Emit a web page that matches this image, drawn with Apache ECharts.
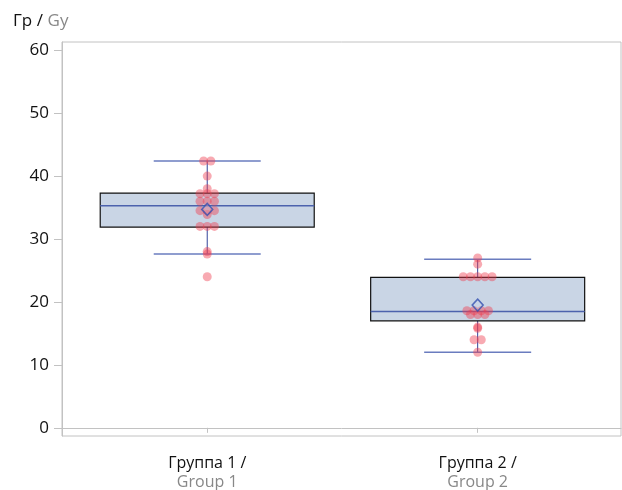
<!DOCTYPE html>
<html>
<head>
<meta charset="utf-8">
<script src="https://cdn.jsdelivr.net/npm/echarts@6/dist/echarts.min.js"></script>
<style>
  html, body { margin: 0; padding: 0; background: #fff; }
  #chart { width: 622px; height: 490px; }
</style>
</head>
<body>
<div id="chart"></div>
<script>
// категории / categories
const groupsRu = ['Группа 1 /', 'Группа 2 /'];
const groupsEn = ['Group 1', 'Group 2'];

// box stats: [low whisker, Q1, median, Q3, high whisker]
const boxStats = [
  [27.6, 31.9, 35.3, 37.3, 42.4],
  [12, 17, 18.5, 23.9, 26.8]
];
const means = [34.7, 19.5];

// individual doses, Gy
const group1Values = [42.4, 42.4, 40, 38, 37.2, 37.2, 37.2, 36, 36, 36, 34.5, 34.5, 34.5, 33.9, 32, 32, 32, 28, 27.6, 24];
const group2Values = [27, 26, 24, 24, 24, 24, 24, 18.6, 18.6, 18.6, 18.6, 18, 18, 18, 16, 15.8, 14, 14, 12];

const yTicks = [0, 10, 20, 30, 40, 50, 60];

const chart = echarts.init(document.getElementById('chart'));
const FONT = '"Open Sans", "Noto Sans", sans-serif';
const PX_PER_UNIT_X = 270; // one category step on the x axis in px

// простая "пчелиная" раскладка: одинаковые значения рядом
function swarm(values, center) {
  const counts = {};
  values.forEach(v => { counts[v] = (counts[v] || 0) + 1; });
  const seen = {};
  return values.map(v => {
    const n = counts[v];
    const i = seen[v] || 0;
    seen[v] = i + 1;
    const dx = (i - (n - 1) / 2) * 7.2 / PX_PER_UNIT_X;
    return [center + dx, v];
  });
}

const pointData = swarm(group1Values, 1).concat(swarm(group2Values, 2));
const boxData = boxStats.map((s, i) => [i + 1].concat(s));
const meanData = means.map((m, i) => [i + 1, m]);

function renderBox(params, api) {
  const x = api.value(0);
  const lo = api.coord([x, api.value(1)]);
  const q1 = api.coord([x, api.value(2)]);
  const med = api.coord([x, api.value(3)]);
  const q3 = api.coord([x, api.value(4)]);
  const hi = api.coord([x, api.value(5)]);
  const halfBox = 107;
  const halfCap = 53.5;
  const cx = lo[0];
  return {
    type: 'group',
    children: [
      { type: 'line', shape: { x1: cx, y1: q1[1], x2: cx, y2: lo[1] }, style: { stroke: '#33449a', lineWidth: 1 } },
      { type: 'line', shape: { x1: cx, y1: q3[1], x2: cx, y2: hi[1] }, style: { stroke: '#33449a', lineWidth: 1 } },
      { type: 'line', shape: { x1: cx - halfCap, y1: lo[1], x2: cx + halfCap, y2: lo[1] }, style: { stroke: '#6a7cbf', lineWidth: 1.5 } },
      { type: 'line', shape: { x1: cx - halfCap, y1: hi[1], x2: cx + halfCap, y2: hi[1] }, style: { stroke: '#6a7cbf', lineWidth: 1.5 } },
      { type: 'rect', shape: { x: cx - halfBox, y: q3[1], width: halfBox * 2, height: q1[1] - q3[1] },
        style: { fill: '#c9d5e5', stroke: '#111', lineWidth: 1.2 } },
      { type: 'line', shape: { x1: cx - halfBox, y1: med[1], x2: cx + halfBox, y2: med[1] }, style: { stroke: '#4c62ad', lineWidth: 1.5 } }
    ]
  };
}

const option = {
  animation: false,
  textStyle: { fontFamily: FONT },
  title: {
    text: '{a|Гр /} {b|Gy}',
    left: 8,
    top: 7,
    textStyle: {
      fontWeight: 'normal',
      rich: {
        a: { fontFamily: FONT, fontSize: 17, color: '#111', fontWeight: 'normal' },
        b: { fontFamily: FONT, fontSize: 17, color: '#888', fontWeight: 'normal' }
      }
    }
  },
  grid: {
    left: 62, right: 1, top: 42, bottom: 54,
    outerBoundsMode: 'none',
    containLabel: false,
    show: true, borderColor: '#c2c2c2', borderWidth: 1
  },
  xAxis: {
    type: 'value',
    min: 0.463,
    max: 2.53,
    splitLine: { show: false },
    axisLine: { show: true, lineStyle: { color: '#c2c2c2' } },
    axisTick: { show: true, length: 5, customValues: [1, 2], lineStyle: { color: '#c2c2c2' } },
    axisLabel: {
      margin: 18,
      customValues: [1, 2],
      formatter: v => {
        const i = Math.round(v) - 1;
        return '{a|' + groupsRu[i] + '}\n{b|' + groupsEn[i] + '}';
      },
      rich: {
        a: { fontFamily: FONT, fontSize: 16, color: '#111', lineHeight: 19 },
        b: { fontFamily: FONT, fontSize: 16, color: '#888', lineHeight: 19 }
      }
    }
  },
  yAxis: {
    type: 'value',
    min: -1.3,
    max: 61.3,
    splitLine: { show: false },
    axisLine: { show: true, lineStyle: { color: '#c2c2c2' } },
    axisTick: { show: true, length: 8, customValues: yTicks, lineStyle: { color: '#c2c2c2' } },
    axisLabel: {
      margin: 13,
      customValues: yTicks,
      fontFamily: FONT,
      fontSize: 17,
      color: '#111'
    }
  },
  series: [
    {
      type: 'custom',
      renderItem: renderBox,
      data: boxData,
      encode: { x: 0, y: [1, 2, 3, 4, 5] },
      z: 1
    },
    {
      type: 'scatter',
      data: pointData,
      symbol: 'circle',
      symbolSize: 9,
      itemStyle: { color: 'rgba(238, 62, 80, 0.55)' },
      z: 3
    },
    {
      type: 'scatter',
      data: meanData,
      symbol: 'diamond',
      symbolSize: [11, 12],
      itemStyle: { color: 'rgba(200, 212, 235, 0.35)', borderColor: '#3550b0', borderWidth: 1.5 },
      z: 4
    }
  ]
};

chart.setOption(option);
</script>
</body>
</html>
